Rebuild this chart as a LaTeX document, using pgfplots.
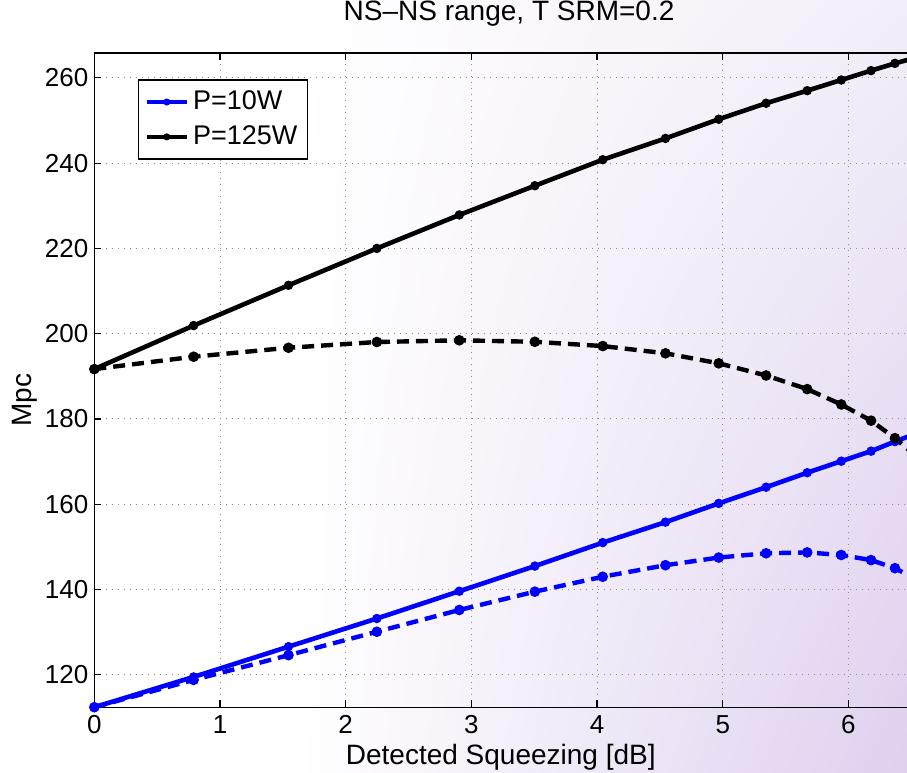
\documentclass[border=0pt]{standalone}
\usepackage{fontspec}
\setmainfont{Liberation Sans}
\usepackage{pgfplots}
\pgfplotsset{compat=1.18}
\usetikzlibrary{backgrounds,shadings}
\definecolor{lavtop}{HTML}{F3EEF8}
\definecolor{lavbot}{HTML}{DFD0EF}
\definecolor{gridgray}{HTML}{8C8C8C}
\definecolor{mblue}{RGB}{0,0,255}

\pgfplotstableread{
x y
0 112.4
0.79 119.5
1.545 126.6
2.248 133.2
2.904 139.6
3.505 145.5
4.045 151.0
4.544 155.8
4.968 160.2
5.345 164.0
5.672 167.4
5.943 170.1
6.18 172.45
6.37 174.7
6.53 176.5
}\bluesolid
\pgfplotstableread{
x y
0 112.4
0.79 118.8
1.545 124.6
2.248 130.1
2.904 135.2
3.505 139.5
4.045 143.0
4.544 145.7
4.968 147.5
5.345 148.5
5.672 148.7
5.943 148.1
6.18 146.9
6.37 145.0
6.53 142.5
}\bluedash
\pgfplotstableread{
x y
0 191.7
0.79 201.9
1.545 211.35
2.248 220.0
2.904 227.85
3.505 234.7
4.045 240.8
4.544 245.8
4.968 250.3
5.345 254.05
5.672 257.0
5.943 259.5
6.18 261.7
6.37 263.4
6.53 264.7
}\blacksolid
\pgfplotstableread{
x y
0 191.7
0.79 194.6
1.545 196.7
2.248 198.05
2.904 198.45
3.505 198.1
4.045 197.1
4.544 195.4
4.968 193.05
5.345 190.2
5.672 187.0
5.943 183.4
6.18 179.6
6.37 175.5
6.53 171.5
}\blackdash

\begin{document}
\begin{tikzpicture}
\begin{axis}[
  scale only axis, width=414.7pt, height=327.3pt,
  xmin=0, xmax=6.6, ymin=112.35, ymax=265.9,
  xtick={0,1,2,3,4,5,6}, ytick={120,140,...,260},
  tick align=inside, major tick length=3.5pt,
  grid=major,
  grid style={gridgray, line width=0.5pt, dash pattern=on 0.5pt off 2.5pt},
  axis line style={line width=0.8pt},
  every tick/.style={black, line width=0.6pt},
  /pgf/number format/assume math mode=true,
  ticklabel style={font=\fontsize{13}{15}\selectfont},
  xticklabel style={yshift=-2pt, inner ysep=2pt},
  yticklabel style={xshift=0.5pt},
  title={NS--NS range, T SRM=0.2},
  title style={at={(axis description cs:0.5,1)}, anchor=base, yshift=10.35pt, font=\fontsize{14}{16}\selectfont},
  xlabel={Detected Squeezing [dB]},
  xlabel style={at={(axis description cs:0.49,0)}, anchor=base, yshift=-28.6pt, inner ysep=1pt, font=\fontsize{14}{16}\selectfont},
  ylabel={Mpc},
  ylabel style={at={([xshift=-35pt]axis description cs:0,0.469)}, anchor=center, font=\fontsize{14}{16}\selectfont},
  legend style={at={(axis description cs:0.0523,0.9594)}, anchor=north west, draw=black, line width=0.8pt, fill=white, font=\fontsize{13.5}{16}\selectfont, row sep=2.5pt, inner ysep=3.5pt},
  legend cell align=left,
  legend image code/.code={\draw[mark repeat=2,mark phase=2,#1,mark size=1.5pt] plot coordinates {(0pt,0pt) (10pt,0pt) (20pt,0pt)};},
]
\addplot[mblue, line width=2.3pt, mark=*, mark size=2.1pt, mark options={line width=0.5pt}] table {\bluesolid};
\addlegendentry{P=10W}
\addplot[mblue, line width=2.2pt, dash pattern=on 6pt off 3.5pt, mark=*, mark size=2.4pt, mark options={solid, line width=0.5pt}, forget plot] table {\bluedash};
\addplot[black, line width=2.3pt, mark=*, mark size=2.1pt, mark options={line width=0.5pt}] table {\blacksolid};
\addlegendentry{P=125W}
\addplot[black, line width=2.2pt, dash pattern=on 6pt off 3.5pt, mark=*, mark size=2.4pt, mark options={solid, line width=0.5pt}, forget plot] table {\blackdash};
\coordinate (cropR) at (axis cs:6.466,200);
\coordinate (gstart) at (axis cs:1.64,200);
\coordinate (axSW) at (rel axis cs:0,0);
\coordinate (axNE) at (rel axis cs:1,1);
\end{axis}
\coordinate (BL) at ([xshift=-47.15pt,yshift=-32.35pt]axSW);
\coordinate (TRtmp) at ([yshift=26.35pt]axNE);
\coordinate (TR) at (TRtmp -| cropR);
\coordinate (G0) at (BL -| gstart);
\pgfresetboundingbox
\path[use as bounding box] (BL) rectangle (TR);
\begin{scope}[on background layer]
\fill[white] (BL) rectangle (TR);
\shade[upper left=white, lower left=white, upper right=lavtop, lower right=lavbot] (G0) rectangle (TR);
\end{scope}
\end{tikzpicture}
\end{document}
